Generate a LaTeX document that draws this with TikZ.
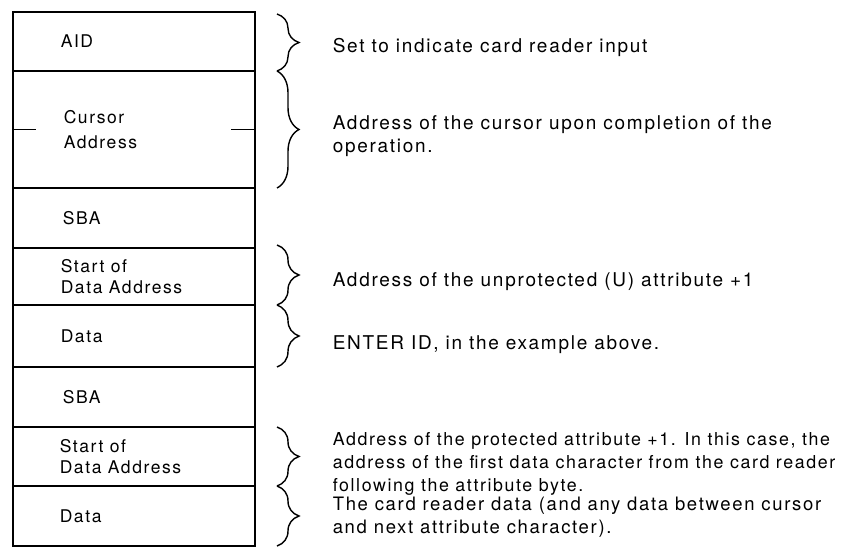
\documentclass[tikz,border=0pt]{standalone}
\usepackage{fontspec}
\setmainfont{TeX Gyre Heros}[LetterSpace=9]
\usetikzlibrary{positioning}
\usetikzlibrary{decorations.pathreplacing}

\begin{document}
\begin{tikzpicture}[x=1pt,y=-1pt,node distance=0pt,line width=1.6pt,
                    cell/.style={rectangle,draw,minimum width=242pt,inner sep=0pt,outer sep=0pt},
                    celltext/.style={anchor=west,align=left,inner sep=0pt,font=\fontsize{17.5}{25}\selectfont},
                    brace/.style={decorate,decoration={brace,amplitude=22pt},line width=1.4pt},
                    remark/.style={anchor=west,align=left,inner sep=0pt,font=\fontsize{19}{23}\selectfont}]
\useasboundingbox (0,0) rectangle (845,552);
\node[cell, minimum height=59pt, anchor=north west] (aid) at (13,12) {};
\node[cell, minimum height=117pt] (cursor) [below=of aid] {};
\node[cell, minimum height=60pt] (sba1) [below=of cursor] {};
\node[cell, minimum height=57pt] (start1) [below=of sba1] {};
\node[cell, minimum height=62pt] (data1) [below=of start1] {};
\node[cell, minimum height=60pt] (sba2) [below=of data1] {};
\node[cell, minimum height=59pt] (start2) [below=of sba2] {};
\node[cell, minimum height=60pt] (data2) [below=of start2] {};
\draw[line width=2.6pt] (aid.north west) rectangle (data2.south east);

\node[celltext] (t1) at ([xshift=47pt]aid.west) {AID};
\node[celltext] (t2) at ([xshift=50pt]cursor.west) {Cursor\\Address};
\node[celltext] (t3) at ([xshift=49pt]sba1.west) {SBA};
\node[celltext, font=\fontsize{17.5}{21}\selectfont] (t4) at ([xshift=47pt]start1.west) {Start of\\Data Address};
\node[celltext] (t5) at ([xshift=47pt]data1.west) {Data};
\node[celltext] (t6) at ([xshift=49pt]sba2.west) {SBA};
\node[celltext, font=\fontsize{17.5}{21}\selectfont] (t7) at ([xshift=46pt]start2.west) {Start of\\Data Address};
\node[celltext] (t8) at ([xshift=46pt]data2.west) {Data};

% ticks on the cursor field
\draw (cursor.west) -- ([xshift=23pt]cursor.west);
\draw ([xshift=-24pt]cursor.east) -- (cursor.east);

% braces
\draw[brace] ([xshift=22pt,yshift=-2pt]aid.north east) -- ([xshift=22pt]aid.south east);
\draw[brace] ([xshift=22pt]cursor.north east) -- ([xshift=22pt]cursor.south east);
\draw[brace] ([xshift=22pt,yshift=3pt]start1.north east) -- ([xshift=22pt]start1.south east);
\draw[brace] ([xshift=22pt]data1.north east) -- ([xshift=22pt]data1.south east);
\draw[brace] ([xshift=22pt]start2.north east) -- ([xshift=22pt]start2.south east);
\draw[brace] ([xshift=22pt]data2.north east) -- ([xshift=22pt]data2.south east);

\node[remark] (r1) at (332,47) {Set to indicate card reader input};
\node[remark] (r2) at (332,136) {Address of the cursor upon completion of the\\operation.};
\node[remark] (r3) at (332,282) {Address of the unprotected (U) attribute +1};
\node[remark] (r4) at (332,345) {ENTER ID, in the example above.};
\node[remark, font=\fontsize{17.8}{23}\selectfont] (r5) at (332,464) {Address of the protected attribute +1. In this case, the\\address of the first data character from the card reader\\following the attribute byte.};
\node[remark, font=\fontsize{18.5}{23}\selectfont] (r6) at (332,517) {The card reader data (and any data between cursor\\and next attribute character).};
\end{tikzpicture}
\end{document}
